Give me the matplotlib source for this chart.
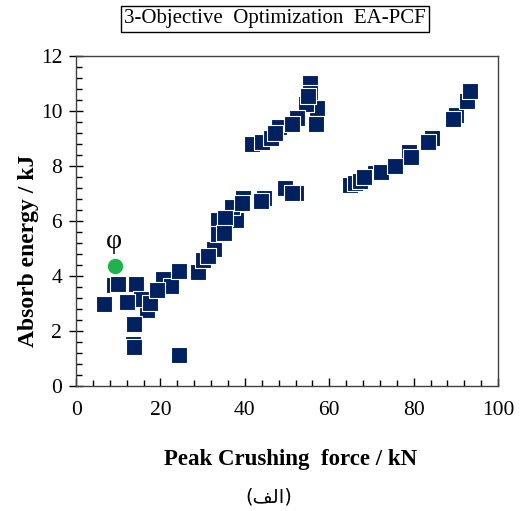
import matplotlib.pyplot as plt
from matplotlib.ticker import MultipleLocator

# Pareto front points (Peak crushing force kN, absorbed energy kJ)
# partially hidden markers first (drawn underneath), fully visible ones last
back_force = [9.0, 14.2, 16.8, 15.4, 17.5, 13.5, 20.6, 22.5,
              28.9, 30.1, 32.7, 33.6, 33.6, 37.9, 37.0, 39.6, 44.5, 49.5, 52.1,
              55.5, 55.5, 57.1, 54.5, 52.4, 48.1, 41.7, 44.1, 46.2,
              64.9, 66.1, 67.3, 70.9, 72.3, 78.9, 84.4, 90.0, 92.7]
back_energy = [3.67, 3.71, 2.76, 3.16, 3.02, 1.53, 3.89, 3.64,
               4.15, 4.58, 4.98, 6.04, 5.53, 6.04, 6.51, 6.84, 6.84, 7.2, 7.02,
               11.02, 10.65, 10.11, 10.25, 9.75, 9.42, 8.8, 8.87, 9.02,
               7.31, 7.38, 7.45, 7.75, 7.78, 8.51, 9.02, 9.85, 10.36]

front_force = [9.95, 6.6, 12.1, 13.7, 13.7, 19.2, 24.4, 24.4,
               31.3, 35.3, 35.1, 39.3, 43.8, 51.2,
               55.0, 51.2, 47.2, 56.9,
               68.2, 75.6, 79.4, 83.4, 89.3, 93.4]
front_energy = [3.71, 2.98, 3.05, 2.25, 1.42, 3.49, 4.18, 1.13,
                4.73, 6.11, 5.56, 6.65, 6.73, 7.02,
                10.55, 9.53, 9.2, 9.53,
                7.6, 8.0, 8.33, 8.87, 9.71, 10.73]

# selected design
phi_force = [9.2]
phi_energy = [4.36]

serif = ['Liberation Serif', 'DejaVu Serif']
navy = '#002060'

fig = plt.figure(figsize=(5.21, 5.11), dpi=100)
ax = fig.add_axes([0.146, 0.2446, 0.81, 0.6454])

ax.scatter(back_force + front_force, back_energy + front_energy, marker='s', s=125,
           color=navy, edgecolors='white', linewidths=0.8, zorder=3)
ax.scatter(phi_force, phi_energy, marker='o', s=135, color='#1fb24f',
           edgecolors='white', linewidths=0.5, zorder=4)
ax.text(phi_force[0] - 0.3, phi_energy[0] + 0.45, '\u03c6', fontsize=20,
        family=serif, ha='center', va='bottom')

ax.set_xlim(0, 100)
ax.set_ylim(0, 12)
ax.xaxis.set_major_locator(MultipleLocator(20))
ax.xaxis.set_minor_locator(MultipleLocator(4))
ax.yaxis.set_major_locator(MultipleLocator(2))
ax.yaxis.set_minor_locator(MultipleLocator(0.4))
ax.tick_params(axis='x', which='major', direction='in', length=6, width=1, pad=11)
ax.tick_params(axis='x', which='minor', direction='in', length=4, width=1)
ax.tick_params(axis='y', which='major', direction='inout', length=10, width=1, pad=5)
ax.tick_params(axis='y', which='minor', direction='in', length=4, width=1)
for lbl in ax.get_xticklabels() + ax.get_yticklabels():
    lbl.set_family(serif)
    lbl.set_fontsize(15.5)
for sp in ax.spines.values():
    sp.set_color('#404040')
    sp.set_linewidth(1)

fig.text(0.055, 0.51, 'Absorb energy / kJ', rotation=90, fontsize=17, fontweight='bold',
         family=serif, ha='center', va='center')
fig.text(0.557, 0.1, 'Peak Crushing  force / kN', fontsize=16.5, fontweight='bold',
         family=serif, ha='center', va='center')
fig.text(0.528, 0.963, '3-Objective  Optimization  EA-PCF', fontsize=15, family=serif,
         ha='center', va='center',
         bbox=dict(boxstyle='square,pad=0.15', facecolor='white', edgecolor='black', linewidth=1))
# Arabic caption "(الف)" in presentation forms so the glyphs join
fig.text(0.516, 0.027, '(\ufed2\ufedf\ufe8d)', fontsize=14, family=['DejaVu Sans'],
         ha='center', va='center')

fig.savefig('out.png', dpi=100)
